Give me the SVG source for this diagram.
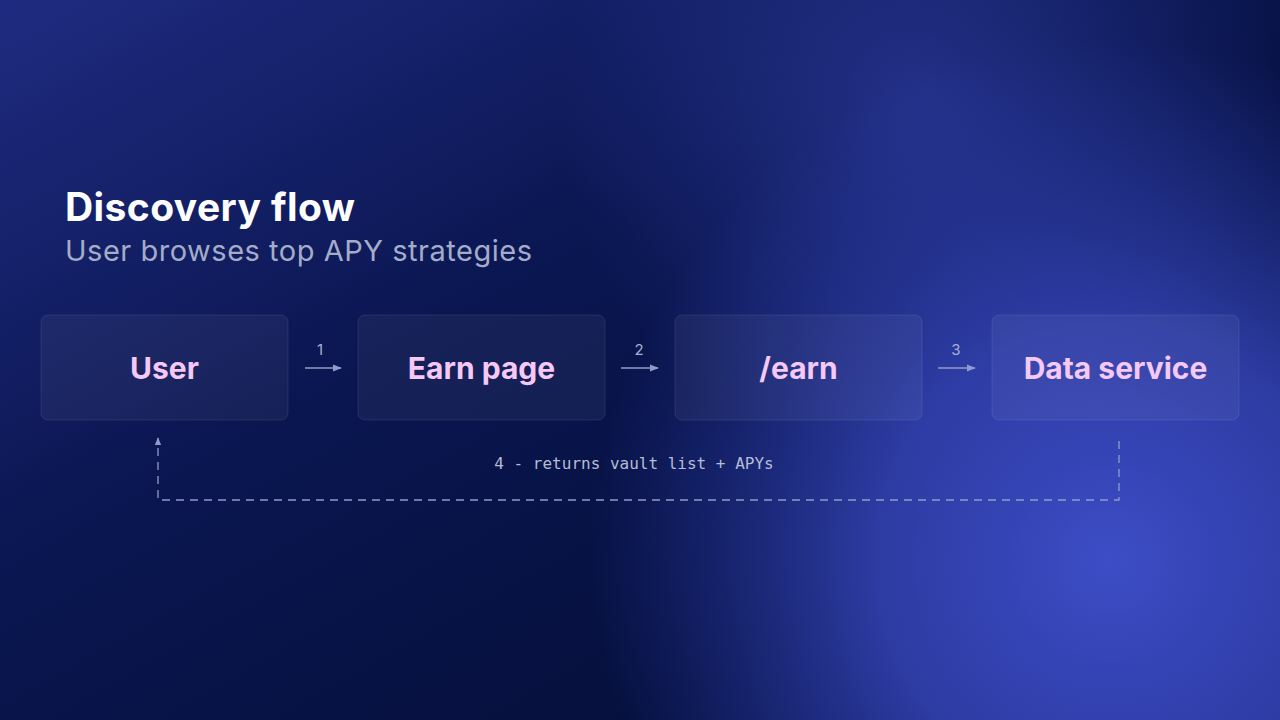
<svg xmlns="http://www.w3.org/2000/svg" width="1280" height="720" viewBox="0 0 1280 720">
<defs>
<linearGradient id="bg" x1="0" y1="0" x2="1" y2="1">
<stop offset="0" stop-color="#1f2b80"/>
<stop offset="0.4" stop-color="#0a1650"/>
<stop offset="0.75" stop-color="#05103d"/>
<stop offset="1" stop-color="#0a1550"/>
</linearGradient>
<radialGradient id="glow1" cx="1110" cy="560" r="520" gradientUnits="userSpaceOnUse">
<stop offset="0" stop-color="#3d4dc6" stop-opacity="1"/>
<stop offset="0.45" stop-color="#3443b4" stop-opacity="0.85"/>
<stop offset="1" stop-color="#2a3aa8" stop-opacity="0"/>
</radialGradient>
<radialGradient id="glow2" cx="920" cy="110" r="360" gradientUnits="userSpaceOnUse">
<stop offset="0" stop-color="#2a3898" stop-opacity="0.8"/>
<stop offset="1" stop-color="#2a3898" stop-opacity="0"/>
</radialGradient>
<marker id="arr" viewBox="0 0 10 10" refX="9" refY="5" markerWidth="6" markerHeight="6" orient="auto">
<path d="M0,1 L10,5 L0,9 z" fill="#8f9cc8"/>
</marker>
<style>
.box{fill:#ffffff;fill-opacity:0.05;stroke:#ffffff;stroke-opacity:0.09;stroke-width:1}
.lbl{font-family:Inter,"Liberation Sans",sans-serif;font-weight:700;font-size:30px;fill:#f5c8f5;text-anchor:middle}
.num{font-family:Inter,"Liberation Sans",sans-serif;font-size:15px;fill:#a6b0d4;text-anchor:middle}
.edge{stroke:#8f9cc8;stroke-width:1.5;fill:none}
.dash{stroke:#8f9cc8;stroke-width:1.3;fill:none;stroke-dasharray:8 6}
</style>
</defs>
<rect width="1280" height="720" fill="url(#bg)"/>
<rect width="1280" height="720" fill="url(#glow2)"/>
<rect width="1280" height="720" fill="url(#glow1)"/>

<g id="title">
<text x="65" y="221" font-family="Inter,'Liberation Sans',sans-serif" font-weight="700" font-size="39" fill="#ffffff" textLength="290">Discovery flow</text>
<text x="65" y="261" font-family="Inter,'Liberation Sans',sans-serif" font-size="29" fill="#a4acc8" textLength="467">User browses top APY strategies</text>
</g>

<g id="node-user">
<rect class="box" x="41" y="315" width="247" height="105" rx="7"/>
<text class="lbl" x="164.5" y="379">User</text>
</g>
<g id="node-earn-page">
<rect class="box" x="358" y="315" width="247" height="105" rx="7"/>
<text class="lbl" x="481.5" y="379">Earn page</text>
</g>
<g id="node-earn-api">
<rect class="box" x="675" y="315" width="247" height="105" rx="7"/>
<text class="lbl" x="798.5" y="379">/earn</text>
</g>
<g id="node-data-service">
<rect class="box" x="992" y="315" width="247" height="105" rx="7"/>
<text class="lbl" x="1115.5" y="379">Data service</text>
</g>

<g id="connectors">
<line class="edge" x1="305" y1="368" x2="341" y2="368" marker-end="url(#arr)"/>
<text class="num" x="320" y="355">1</text>
<line class="edge" x1="621" y1="368" x2="658" y2="368" marker-end="url(#arr)"/>
<text class="num" x="639" y="355">2</text>
<line class="edge" x1="938" y1="368" x2="975" y2="368" marker-end="url(#arr)"/>
<text class="num" x="956" y="355">3</text>
<path class="dash" d="M1119,441 L1119,500 L158,500 L158,438" marker-end="url(#arr)"/>
<text x="634" y="469" font-family="'DejaVu Sans Mono','Liberation Mono',monospace" font-size="16" fill="#b4bcd6" text-anchor="middle">4 - returns vault list + APYs</text>
</g>
</svg>
